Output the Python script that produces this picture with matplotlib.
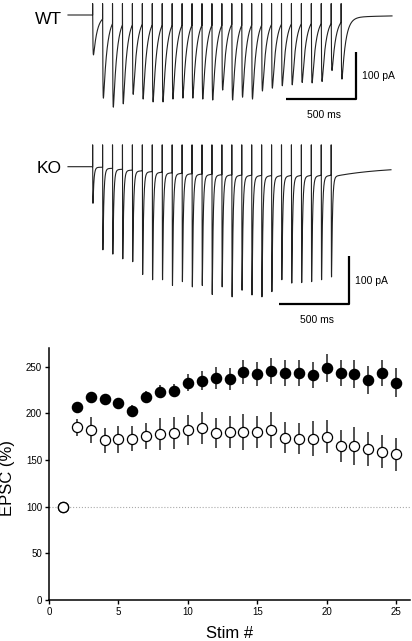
import numpy as np
import matplotlib
matplotlib.use("Agg")
import matplotlib.pyplot as plt

plt.rcParams['font.family'] = ['Liberation Sans', 'DejaVu Sans']

# --- example traces: EPSC peak amplitudes (pA) ---
wt_peaks = [84, 175, 194, 187, 167, 177, 183, 183, 177, 175, 175, 177, 179,
            158, 179, 173, 177, 160, 154, 149, 147, 142, 143, 140, 117, 135]
ko_peaks = [77, 175, 184, 194, 200, 227, 238, 238, 250, 242, 253, 250, 269,
            253, 274, 260, 270, 274, 263, 238, 245, 244, 242, 238, 232]
wt_artifact = 24   # pA
ko_artifact = 46
isi = 71.0         # ms between stimuli
t_first = 176.0    # ms, first stimulus

# --- summary: EPSC (% of first) vs stim number ---
stim = list(range(1, 26))
ko_mean = [100, 207, 217, 215, 211, 203, 218, 223, 224, 233, 235, 238, 237,
           244, 242, 245, 243, 243, 241, 249, 243, 242, 236, 243, 233]
ko_sem = [0, 5, 5, 5, 5, 6, 6, 7, 7, 9, 10, 12, 12, 13, 13, 14, 14, 14, 14,
          15, 14, 15, 15, 14, 16]
wt_mean = [100, 185, 182, 171, 172, 173, 176, 178, 179, 182, 184, 179, 180,
           180, 180, 182, 174, 173, 173, 175, 165, 165, 162, 159, 156]
wt_sem = [0, 9, 14, 13, 14, 13, 14, 17, 17, 16, 17, 16, 17, 19, 17, 19, 17,
          17, 19, 18, 17, 20, 18, 18, 18]


def make_trace(peaks, art, tau_r, tau, slow, t_end):
    t = np.arange(0, t_end, 0.25)
    y = np.zeros_like(t)
    for k, target in enumerate(peaks):
        s = t - (t_first + k * isi) - 0.5
        on = s > 0
        shape = np.zeros_like(t)
        shape[on] = (1 - np.exp(-s[on] / tau_r)) * (
            (1 - slow) * np.exp(-s[on] / tau) + slow * np.exp(-s[on] / 350.0))
        ip = np.argmax(shape)
        amp = (target + y[ip]) / shape[ip]
        y = y - amp * shape
    for k in range(len(peaks)):
        y[np.argmin(np.abs(t - (t_first + k * isi)))] = art
    return t, y


ms_px = 500.0 / 70.0
pa_px = 100.0 / 47.5
W, H = 412, 641

fig = plt.figure(figsize=(4.12, 6.41), dpi=100)


def trace_axes(top, bottom, base):
    ax = fig.add_axes([0, 1 - bottom / H, 1, (bottom - top) / H])
    ax.set_xlim(-68 * ms_px, (W - 68) * ms_px)
    ax.set_ylim(-(bottom - base) * pa_px, (base - top) * pa_px)
    ax.axis('off')
    return ax


def scale_bar(ax, x_end, y_bot):
    ax.plot([x_end - 500, x_end, x_end], [y_bot, y_bot, y_bot + 100],
            color='black', lw=1.6, solid_capstyle='butt')
    ax.text(x_end + 40, y_bot + 48, '100 pA', fontsize=7.5, va='center', ha='left')
    ax.text(x_end - 230, y_bot - 34, '500 ms', fontsize=7.5, va='center', ha='center')


# WT trace
ax1 = trace_axes(0, 135, 15)
t, y = make_trace(wt_peaks, wt_artifact, 2.0, 27.0, 0.006, 324 * ms_px)
ax1.plot(t, y, color='#222222', lw=0.8)
scale_bar(ax1, 288 * ms_px, -177)
fig.text(62 / W, 1 - 19 / H, 'WT', fontsize=12.5, ha='right', va='center')

# KO trace
ax2 = trace_axes(135, 330, 166.7)
t, y = make_trace(ko_peaks, ko_artifact, 0.8, 6.5, 0.012, 323 * ms_px)
ax2.plot(t, y, color='#222222', lw=0.8)
scale_bar(ax2, 281 * ms_px, -289)
fig.text(62 / W, 1 - 169 / H, 'KO', fontsize=12.5, ha='right', va='center')

# summary plot
ax = fig.add_axes([49 / W, 41 / H, 361 / W, 252 / H])
ax.axhline(100, color='#aaaaaa', ls=':', lw=0.8, zorder=0)
ax.errorbar(stim, ko_mean, yerr=ko_sem, fmt='o', ms=7.3, mfc='black', mec='black',
            ecolor='#333333', elinewidth=1.2, capsize=0, zorder=2)
ax.errorbar(stim, wt_mean, yerr=wt_sem, fmt='o', ms=7.3, mfc='white', mec='black',
            mew=0.9, ecolor='#333333', elinewidth=1.2, capsize=0, zorder=3)
ax.set_xlim(0, 26)
ax.set_ylim(0, 270)
ax.set_xticks([0, 5, 10, 15, 20, 25])
ax.set_yticks([0, 50, 100, 150, 200, 250])
for s in ['top', 'right']:
    ax.spines[s].set_visible(False)
for s in ['left', 'bottom']:
    ax.spines[s].set_linewidth(1.1)
ax.tick_params(direction='out', length=3, width=1, labelsize=7, pad=2)
fig.text(8 / W, 1 - 478 / H, 'EPSC (%)', fontsize=12, rotation=90,
         ha='center', va='center')
fig.text(230 / W, 1 - 633 / H, 'Stim #', fontsize=12, ha='center', va='center')

fig.savefig('out.png', dpi=100)
